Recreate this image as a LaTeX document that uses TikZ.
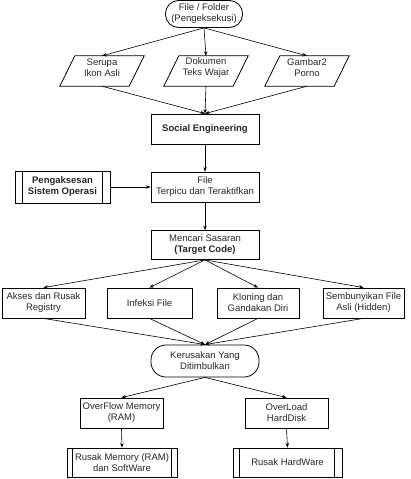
\documentclass[tikz,border=0pt]{standalone}
\usepackage{fontspec}
\setmainfont{Liberation Sans}
\usetikzlibrary{arrows.meta,calc}
\begin{document}
\begin{tikzpicture}[x=1pt,y=-1pt,
  every node/.style={font=\fontsize{9.5}{11}\selectfont, align=center, inner sep=1pt, text=black!85},
  box/.style={draw, line width=0.8pt, rectangle, minimum height=30pt},
  term/.style={draw, line width=0.8pt, rectangle, rounded corners=13pt},
  para/.style={rectangle, minimum width=54pt, minimum height=24pt},
  sub/.style={draw, line width=0.8pt, rectangle},
  arr/.style={line width=0.6pt, -{Stealth[length=4.5pt,width=3.5pt]}}
]
\useasboundingbox (0,0) rectangle (411,479);

% top terminator
\node[term, minimum width=77pt, minimum height=27pt] (top) at (204,14) {File / Folder\\(Pengeksekusi)};

% parallelograms
\node[para] (p1) at (102,68) {Serupa\\Ikon Asli};
\node[para] (p2) at (206,68) {Dokumen\\Teks Wajar};
\node[para] (p3) at (307,68) {Gambar2\\Porno};
\foreach \p in {p1,p2,p3}{
  \draw[line width=0.8pt] (\p.north west) -- ([xshift=15pt]\p.north east)
    -- ($(\p.south east)+(0,6)$) -- ($(\p.south west)+(-15,6)$) -- cycle;
}
\coordinate (p1b) at ($(p1.south)+(0,6)$);
\coordinate (p2b) at ($(p2.south)+(0,6)$);
\coordinate (p3b) at ($(p3.south)+(0,6)$);

% main chain
\node[box, minimum width=108pt, font=\fontsize{9.5}{11}\selectfont\bfseries] (se) at (205,129) {Social Engineering};
\node[box, minimum width=108pt] (ft) at (205,187) {File\\Terpicu dan Teraktifkan};
\node[sub, minimum width=95pt, minimum height=32pt, font=\fontsize{9.5}{11}\selectfont\bfseries] (pg) at (62.5,187) {Pengaksesan\\Sistem Operasi};
\draw[line width=0.8pt] ([xshift=8pt]pg.north west) -- ([xshift=8pt]pg.south west);
\draw[line width=0.8pt] ([xshift=-8pt]pg.north east) -- ([xshift=-8pt]pg.south east);

\node[box, minimum width=108pt, minimum height=29pt] (mc) at (205,245) {Mencari Sasaran\\\textbf{(Target Code)}};

\node[box, minimum width=83pt] (b1) at (43.5,303) {Akses dan Rusak\\Registry};
\node[box, minimum width=85pt] (b2) at (149.5,303) {Infeksi File};
\node[box, minimum width=82pt] (b3) at (258,303) {Kloning dan\\Gandakan Diri};
\node[box, minimum width=81pt] (b4) at (363.5,303) {Sembunyikan File\\Asli (Hidden)};

\node[term, rounded corners=15pt, minimum width=108pt, minimum height=32pt] (ke) at (205,361) {Kerusakan Yang\\Ditimbulkan};

\node[box, minimum width=83pt] (of) at (121.5,413) {OverFlow Memory\\(RAM)};
\node[box, minimum width=83pt] (ol) at (286.5,413) {OverLoad\\HardDisk};

\node[sub, minimum width=110pt, minimum height=29pt] (rm) at (122,462.5) {Rusak Memory (RAM)\\dan SoftWare};
\draw[line width=0.8pt] ([xshift=6pt]rm.north west) -- ([xshift=6pt]rm.south west);
\draw[line width=0.8pt] ([xshift=-6pt]rm.north east) -- ([xshift=-6pt]rm.south east);
\node[sub, minimum width=109pt, minimum height=29pt] (rh) at (287.5,462.5) {Rusak HardWare};
\draw[line width=0.8pt] ([xshift=7pt]rh.north west) -- ([xshift=7pt]rh.south west);
\draw[line width=0.8pt] ([xshift=-8pt]rh.north east) -- ([xshift=-8pt]rh.south east);

% connectors
\draw[arr] (top.south) -- (p1.north);
\draw[arr] (top.south) -- (p2.north);
\draw[arr] (top.south) -- (p3.north);
\draw[arr] (p1b) -- (se.north);
\draw[arr] (p2b) -- (se.north);
\draw[arr] (p3b) -- (se.north);
\draw[arr] (se.south) -- (ft.north);
\draw[arr] (pg.east) -- (ft.west);
\draw[arr] (ft.south) -- (mc.north);
\foreach \b in {b1,b2,b3,b4}{
  \draw[arr] (mc.south) -- (\b.north);
  \draw[arr] (\b.south) -- (ke.north);
}
\draw[arr] (ke.south) -- (of.north);
\draw[arr] (ke.south) -- (ol.north);
\draw[arr] (of.south) -- (rm.north);
\draw[arr] (ol.south) -- (rh.north);
\end{tikzpicture}
\end{document}
